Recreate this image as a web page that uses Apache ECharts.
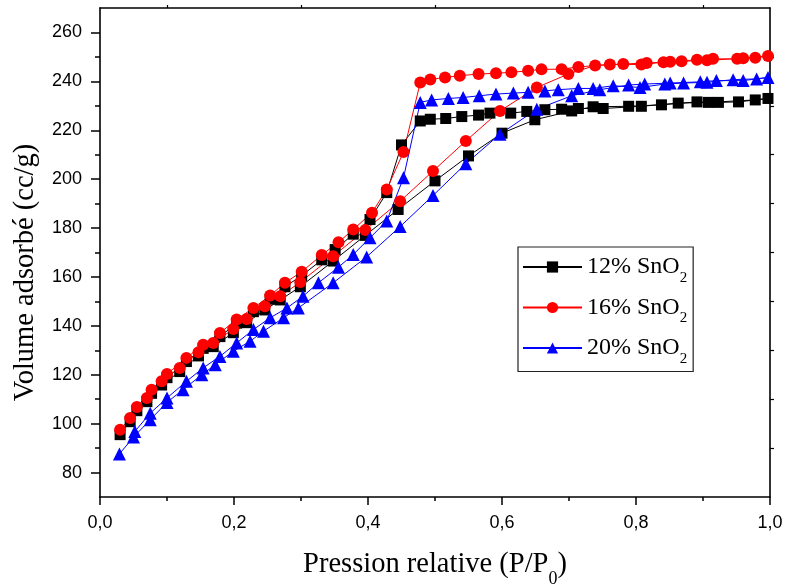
<!DOCTYPE html>
<html>
<head>
<meta charset="utf-8">
<script src="https://cdn.jsdelivr.net/npm/echarts@6/dist/echarts.min.js"></script>
<style>html,body{margin:0;padding:0;background:#fff;}#c{width:789px;height:588px;}</style>
</head>
<body>
<div id="c"></div>
<script>
// ---- Data (P/P0, volume cc/g), adsorption then desorption branch ----
const p12 = [0.030,0.045,0.070,0.092,0.119,0.147,0.169,0.199,0.219,0.246,0.269,0.299,0.348,0.396,0.445,0.500,0.550,0.600,0.649,0.704,0.736,0.789,0.838,0.891,0.923,0.953,0.997,
  0.978,0.908,0.863,0.808,0.751,0.714,0.689,0.664,0.637,0.613,0.582,0.565,0.540,0.516,0.493,0.478,0.450,0.428,0.403,0.378,0.351,0.331,0.301,0.276,0.254,0.229,0.204,0.179,0.154,0.129,0.100,0.077,0.055];
const v12 = [95.5,100.8,109.0,115.8,121.3,127.7,131.5,137.2,141.3,146.5,150.6,156.0,166.5,177.0,187.6,199.3,209.5,218.8,224.3,227.9,229.6,229.8,230.4,231.6,231.4,231.6,233.0,
  232.4,231.4,231.1,229.8,228.9,228.9,228.6,228.4,227.7,227.0,227.0,226.2,225.6,224.8,224.5,223.8,214.0,194.5,183.5,177.5,171.2,167.0,160.5,156.0,150.9,145.8,141.1,135.6,130.8,125.4,118.8,112.4,105.3];

const p16 = [0.030,0.045,0.070,0.092,0.119,0.147,0.169,0.199,0.219,0.246,0.269,0.299,0.348,0.396,0.448,0.497,0.546,0.597,0.652,0.699,0.739,0.781,0.816,0.851,0.891,0.915,0.951,0.997,
  0.978,0.960,0.906,0.868,0.841,0.808,0.761,0.714,0.689,0.659,0.639,0.614,0.591,0.565,0.537,0.515,0.493,0.478,0.453,0.428,0.406,0.378,0.356,0.331,0.301,0.276,0.254,0.229,0.204,0.179,0.154,0.129,0.100,0.077,0.055];
const v16 = [97.5,102.3,110.5,117.3,122.8,129.2,133.0,138.7,142.8,148.0,152.1,157.9,168.5,179.2,191.0,203.3,215.6,227.9,237.5,243.0,246.5,247.1,247.5,248.0,248.8,249.2,249.2,250.4,
  249.7,249.4,248.6,248.2,247.8,246.9,246.9,245.9,245.0,244.9,244.3,243.7,243.3,243.0,242.3,241.6,240.8,239.5,211.1,195.8,186.3,179.4,174.2,169.0,162.1,157.6,152.4,147.3,142.6,137.1,132.3,126.9,120.3,113.9,106.8];

const p20 = [0.029,0.050,0.075,0.100,0.124,0.152,0.172,0.199,0.224,0.244,0.274,0.296,0.348,0.398,0.448,0.497,0.546,0.597,0.652,0.704,0.746,0.789,0.813,0.851,0.896,0.920,0.960,0.997,
  0.980,0.945,0.906,0.871,0.843,0.806,0.766,0.736,0.714,0.684,0.664,0.639,0.617,0.591,0.566,0.542,0.520,0.495,0.478,0.453,0.428,0.403,0.378,0.356,0.326,0.303,0.279,0.254,0.229,0.204,0.179,0.154,0.129,0.100,0.075,0.052];
const v20 = [87.6,94.5,101.6,108.7,113.9,120.0,124.1,129.6,133.7,137.8,143.3,147.3,157.6,168.2,180.6,193.3,206.3,218.4,228.6,234.1,236.6,238.5,238.9,239.3,239.8,240.3,240.3,241.6,
  241.0,240.7,239.6,239.3,238.9,237.5,238.2,237.1,237.1,236.6,236.1,235.5,235.2,234.8,234.1,233.4,233.0,232.4,231.4,200.6,182.9,176.0,169.2,164.0,157.6,152.1,147.3,143.3,138.5,133.0,127.5,122.8,117.3,110.5,104.3,96.8];

const seriesNames = ['12% SnO2', '16% SnO2', '20% SnO2'];
const legendLabels = {'12% SnO2': '{b|12% SnO}{s|2}', '16% SnO2': '{b|16% SnO}{s|2}', '20% SnO2': '{b|20% SnO}{s|2}'};
const xTitle = '{b|Pression relative (P/P}{s|0}{b|)}';
const yTitle = 'Volume adsorbé (cc/g)';

const pair = (p, v) => p.map((x, i) => [x, v[i]]);

const SERIF = '"Liberation Serif", "Times New Roman", serif';
const SANS = '"Liberation Sans", Arial, sans-serif';
const axisLine = {show: true, onZero: false, lineStyle: {color: '#000', width: 1.6}};

const chart = echarts.init(document.getElementById('c'), null, {renderer: 'canvas'});
chart.setOption({
  animation: false,
  backgroundColor: '#fff',
  grid: [
    {left: 100, right: 19, top: 8, bottom: 91, outerBoundsMode: 'none', containLabel: false},
    {left: 100, right: 19, top: 32.45, bottom: 115.45, outerBoundsMode: 'none', containLabel: false}
  ],
  xAxis: [
    {gridIndex: 0, type: 'value', min: 0, max: 1, interval: 0.2, position: 'bottom',
     axisLine: axisLine,
     axisTick: {show: true, length: 8, lineStyle: {color: '#000', width: 1.5}},
     minorTick: {show: true, splitNumber: 2, length: 4, lineStyle: {color: '#000', width: 1.5}},
     splitLine: {show: false},
     axisLabel: {color: '#000', fontFamily: SANS, fontSize: 18, margin: 17,
       formatter: v => v.toFixed(1).replace('.', ',')},
     name: xTitle, nameLocation: 'middle', nameGap: 44,
     nameTextStyle: {color: '#000', fontFamily: SERIF, fontSize: 28.5,
       rich: {b: {fontFamily: SERIF, fontSize: 28.5, color: '#000', lineHeight: 47},
              s: {fontFamily: SERIF, fontSize: 18, color: '#000', verticalAlign: 'bottom'}}}
    },
    {gridIndex: 0, type: 'value', min: 0, max: 1, interval: 0.2, position: 'top',
     axisLine: axisLine, axisTick: {show: false},
     minorTick: {show: true, splitNumber: 2, length: 3, lineStyle: {color: '#000', width: 1.2}},
     splitLine: {show: false}, axisLabel: {show: false}},
    {gridIndex: 1, type: 'value', min: 0, max: 1, show: false}
  ],
  yAxis: [
    {gridIndex: 0, type: 'value', min: 70, max: 270, position: 'left',
     axisLine: axisLine, axisTick: {show: false}, axisLabel: {show: false}, splitLine: {show: false},
     name: yTitle, nameLocation: 'middle', nameGap: 60, nameRotate: 90,
     nameTextStyle: {color: '#000', fontFamily: SERIF, fontSize: 28.5, padding: [0, 40, 0, 0]}},
    {gridIndex: 0, type: 'value', min: 70, max: 270, position: 'right',
     axisLine: axisLine, axisTick: {show: false}, axisLabel: {show: false}, splitLine: {show: false}},
    {gridIndex: 1, type: 'value', min: 80, max: 260, interval: 20, position: 'left',
     axisLine: {show: false},
     axisTick: {show: true, length: 9, lineStyle: {color: '#000', width: 1.5}},
     minorTick: {show: true, splitNumber: 2, length: 5, lineStyle: {color: '#000', width: 1.5}},
     splitLine: {show: false},
     axisLabel: {color: '#000', fontFamily: SANS, fontSize: 18, margin: 18}},
    {gridIndex: 1, type: 'value', min: 80, max: 260, interval: 20, position: 'right',
     axisLine: {show: false}, axisTick: {show: false},
     minorTick: {show: true, splitNumber: 2, length: 4, lineStyle: {color: '#000', width: 1.2}},
     splitLine: {show: false}, axisLabel: {show: false}}
  ],
  legend: {
    left: 518, top: 247, orient: 'vertical',
    data: seriesNames,
    borderColor: '#222', borderWidth: 1.2,
    padding: [8, 6, 5, 4],
    itemWidth: 59, itemHeight: 14, itemGap: 10,
    formatter: n => legendLabels[n],
    textStyle: {color: '#000', fontFamily: SERIF, fontSize: 24,
      rich: {b: {fontFamily: SERIF, fontSize: 24, color: '#000', lineHeight: 37},
             s: {fontFamily: SERIF, fontSize: 15, color: '#000', verticalAlign: 'bottom'}}}
  },
  series: [
    {name: seriesNames[0], type: 'line', xAxisIndex: 0, yAxisIndex: 0, data: pair(p12, v12),
     symbol: 'rect', symbolSize: 11, color: '#000', lineStyle: {width: 1, color: '#000'},
     itemStyle: {color: '#000'}},
    {name: seriesNames[1], type: 'line', xAxisIndex: 0, yAxisIndex: 0, data: pair(p16, v16),
     symbol: 'circle', symbolSize: 12, color: '#ff0000', lineStyle: {width: 1, color: '#ff0000'},
     itemStyle: {color: '#ff0000'}},
    {name: seriesNames[2], type: 'line', xAxisIndex: 0, yAxisIndex: 0, data: pair(p20, v20),
     symbol: 'triangle', symbolSize: 13, color: '#0000ff', lineStyle: {width: 1, color: '#0000ff'},
     itemStyle: {color: '#0000ff'}}
  ]
});
</script>
</body>
</html>
